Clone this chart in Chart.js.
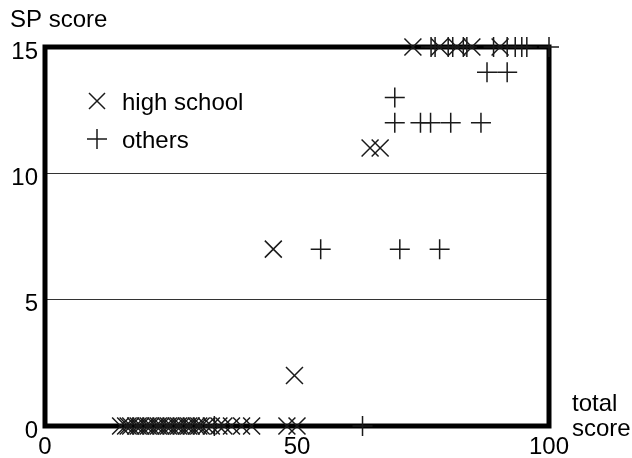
<!DOCTYPE html>
<html>
<head>
<meta charset="utf-8">
<script src="https://cdn.jsdelivr.net/npm/chart.js@4.4.1/dist/chart.umd.min.js"></script>
<style>
  html, body { margin: 0; padding: 0; background: #fff; }
  #wrap { width: 632px; height: 458px; position: relative; }
</style>
</head>
<body>
<div id="wrap"><canvas id="c"></canvas></div>
<script>
// SP score vs total score, two groups
const X_TICKS = [0, 50, 100];
const Y_TICKS = [0, 5, 10, 15];

const HS_X = [15, 16, 16.5, 17, 18, 18.5, 19, 20, 20.5, 21, 22, 22.5, 23, 24, 24.5, 25, 26, 26.5,
              27, 28, 28.5, 29, 30, 30.5, 31, 32, 33, 34.5, 35.5, 37, 39, 41, 48, 50,
              49.5, 45.3, 64.5, 66.5, 73, 78.3, 81.7, 84.7, 90.3];
const HS_Y = [0, 0, 0, 0, 0, 0, 0, 0, 0, 0, 0, 0, 0, 0, 0, 0, 0, 0,
              0, 0, 0, 0, 0, 0, 0, 0, 0, 0, 0, 0, 0, 0, 0, 0,
              2, 7, 11, 11, 15, 15, 15, 15, 15];

const OT_X = [33.6, 63, 54.7, 70.4, 78.3, 69.4, 74.5, 76.5, 80.5, 86.5, 69.4, 87.7, 91.7,
              76.6, 77.4, 80, 80.9, 83, 83.7, 89, 91.7, 93.3, 94.6, 95.6, 100];
const OT_Y = [0, 0, 7, 7, 7, 12, 12, 12, 12, 12, 13, 14, 14,
              15, 15, 15, 15, 15, 15, 15, 15, 15, 15, 15, 15];

const INK = '#1a1a1a';
const FONT = "'Liberation Sans', Arial, sans-serif";

const pts = (xs, ys) => xs.map((x, i) => ({ x: x, y: ys[i] }));

// frame + free text (axis names, legend)
const decor = {
  id: 'decor',
  beforeDatasetsDraw(chart) {
    const { ctx, chartArea: a } = chart;
    ctx.save();
    ctx.strokeStyle = '#000';
    ctx.lineWidth = 5;
    ctx.strokeRect(a.left, a.top, a.right - a.left, a.bottom - a.top);
    ctx.restore();
  },
  afterDraw(chart) {
    const { ctx } = chart;
    ctx.save();
    ctx.fillStyle = '#000';
    ctx.font = '24px ' + FONT;
    ctx.textBaseline = 'alphabetic';
    ctx.textAlign = 'left';
    ctx.fillText('SP score', 10, 27);
    ctx.fillText('total', 572, 411);
    ctx.fillText('score', 572, 436);

    // legend
    ctx.strokeStyle = INK;
    ctx.lineWidth = 1.5;
    ctx.beginPath();
    ctx.moveTo(89, 93); ctx.lineTo(105, 109);
    ctx.moveTo(105, 93); ctx.lineTo(89, 109);
    ctx.moveTo(87, 139); ctx.lineTo(107, 139);
    ctx.moveTo(97, 129); ctx.lineTo(97, 149);
    ctx.stroke();
    ctx.font = '24px ' + FONT;
    ctx.fillText('high school', 122, 110);
    ctx.fillText('others', 122, 148);
    ctx.restore();
  }
};

new Chart(document.getElementById('c'), {
  type: 'scatter',
  data: {
    datasets: [
      {
        label: 'high school',
        data: pts(HS_X, HS_Y),
        pointStyle: 'crossRot',
        pointRadius: 12,
        borderColor: INK,
        borderWidth: 1.5,
        backgroundColor: INK,
        clip: false,
      },
      {
        label: 'others',
        data: pts(OT_X, OT_Y),
        pointStyle: 'cross',
        pointRadius: 10,
        borderColor: INK,
        borderWidth: 1.5,
        backgroundColor: INK,
        clip: false,
      },
    ],
  },
  options: {
    responsive: true,
    maintainAspectRatio: false,
    animation: false,
    layout: { padding: { left: 0, right: 83, top: 47, bottom: 0 } },
    plugins: { legend: { display: false }, tooltip: { enabled: false } },
    scales: {
      x: {
        type: 'linear',
        min: 0, max: 100,
        afterBuildTicks: s => { s.ticks = X_TICKS.map(v => ({ value: v })); },
        afterFit: s => { s.height = 32; },
        grid: { display: false, drawTicks: false },
        border: { display: false },
        ticks: { color: '#000', padding: 7, font: { family: FONT, size: 24 }, maxRotation: 0 },
      },
      y: {
        type: 'linear',
        min: 0, max: 15,
        afterBuildTicks: s => { s.ticks = Y_TICKS.map(v => ({ value: v })); },
        afterFit: s => { s.width = 45; },
        grid: {
          drawTicks: false,
          color: ctx => (ctx.tick && (ctx.tick.value === 5 || ctx.tick.value === 10)) ? '#333' : 'rgba(0,0,0,0)',
          lineWidth: 1,
        },
        border: { display: false },
        ticks: { color: '#000', padding: 7, labelOffset: 5, font: { family: FONT, size: 24 } },
      },
    },
  },
  plugins: [decor],
});
</script>
</body>
</html>
